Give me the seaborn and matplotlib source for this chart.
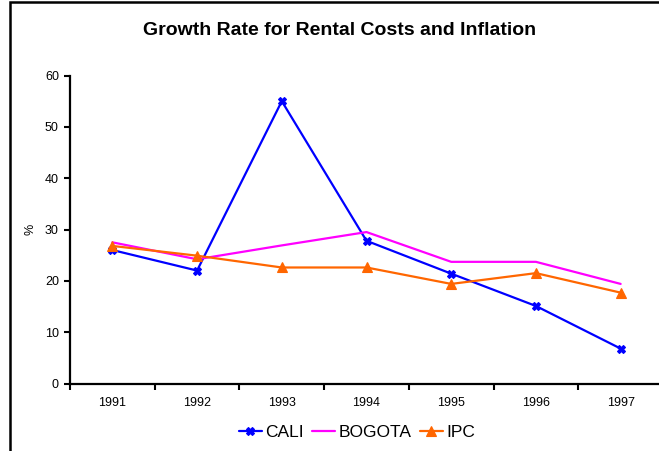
import matplotlib
matplotlib.use("Agg")
import matplotlib.pyplot as plt
import seaborn as sns
import pandas as pd
import numpy as np
from matplotlib.patches import Rectangle

years = ["1991", "1992", "1993", "1994", "1995", "1996", "1997"]
cali = [26.0, 22.0, 55.0, 27.8, 21.4, 15.1, 6.8]
bogota = [27.5, 24.2, 26.9, 29.5, 23.7, 23.7, 19.4]
ipc = [26.8, 24.9, 22.6, 22.6, 19.4, 21.5, 17.7]

series = {"CALI": cali, "BOGOTA": bogota, "IPC": ipc}
colors = {"CALI": "#0000FF", "BOGOTA": "#FF00FF", "IPC": "#FF6600"}
markers = {"CALI": "X", "BOGOTA": "", "IPC": "^"}

rows = []
for name, vals in series.items():
    for i, v in enumerate(vals):
        rows.append({"pos": i, "value": v, "series": name})
df = pd.DataFrame(rows)

sns.set_theme(style="white")
plt.rcParams["font.family"] = ["Liberation Sans", "DejaVu Sans"]
plt.rcParams["text.color"] = "black"
plt.rcParams["axes.labelcolor"] = "black"
plt.rcParams["xtick.color"] = "black"
plt.rcParams["ytick.color"] = "black"

W, H = 659, 451
fig = plt.figure(figsize=(W / 100, H / 100), dpi=100)
ax = fig.add_axes([70 / W, 1 - 383.5 / H, (663 - 70) / W, (383.5 - 75.5) / H])

for name in series:
    sub = df[df["series"] == name]
    mk = markers[name]
    sns.lineplot(data=sub, x="pos", y="value", ax=ax, color=colors[name],
                 linewidth=1.6, marker=mk if mk else None, markersize=7 if mk == "^" else 6,
                 markeredgewidth=0.8, markeredgecolor=colors[name], label=name)

ax.set_xlim(-0.5, len(years) - 0.5)
ax.set_ylim(0, 60)
ax.set_yticks(np.arange(0, 61, 10))
ax.set_xticks(np.arange(len(years)))
ax.set_xticklabels(years)
ax.set_xticks(np.arange(len(years) + 1) - 0.5, minor=True)
ax.tick_params(axis="x", which="major", length=0, pad=10, labelsize=9, labelcolor="black")
ax.tick_params(axis="x", which="minor", length=4, width=1.5, direction="out", color="black", bottom=True)
ax.tick_params(axis="y", length=4, width=1.5, direction="out", color="black", left=True, labelsize=9,
               pad=4, labelcolor="black")
for s in ["top", "right"]:
    ax.spines[s].set_visible(False)
for s in ["left", "bottom"]:
    ax.spines[s].set_color("black")
    ax.spines[s].set_linewidth(1.6)
ax.set_xlabel("")
ax.set_ylabel("%", fontsize=9, labelpad=6, color="black")
ax.grid(False)

ax.legend(loc="center", bbox_to_anchor=(357 / W, 1 - 432 / H), bbox_transform=fig.transFigure,
          ncol=3, frameon=False, fontsize=12.5, handlelength=1.3, handletextpad=0.2,
          columnspacing=0.5, borderpad=0.2)

fig.text(340 / W, 1 - 30.5 / H, "Growth Rate for Rental Costs and Inflation", ha="center", va="center",
         fontsize=14, fontweight="bold", color="black")

fig.add_artist(Rectangle((10 / W, -0.1), 1.2, 1.1 - 1.5 / H, transform=fig.transFigure,
                         fill=False, edgecolor="black", linewidth=1.8, clip_on=False))

fig.savefig("out.png", dpi=100)
